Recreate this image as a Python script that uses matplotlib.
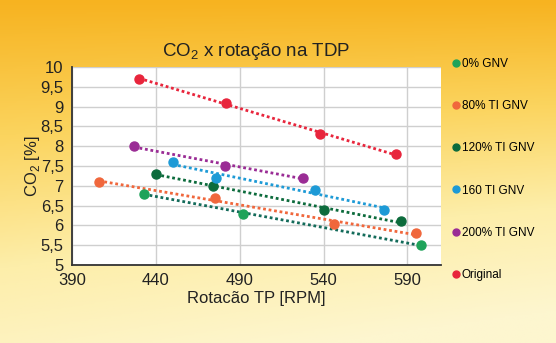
import numpy as np
import matplotlib
matplotlib.use("Agg")
import matplotlib.pyplot as plt
from matplotlib.lines import Line2D
from matplotlib.colors import LinearSegmentedColormap

plt.rcParams["font.family"] = ["Liberation Sans", "DejaVu Sans"]
plt.rcParams["mathtext.fontset"] = "custom"
plt.rcParams["mathtext.rm"] = "Liberation Sans"

# series (rotação TP [RPM], CO2 [%])
series_names = ["0% GNV", "80% TI GNV", "120% TI GNV", "160 TI GNV", "200% TI GNV", "Original"]
series_colors = ["#1fa35a", "#f0673c", "#0c6b3c", "#1d9ad6", "#9a2c95", "#e8253c"]
line_colors = ["#136b5a", "#f0673c", "#0c6b3c", "#1d9ad6", "#9a2c95", "#e8253c"]

rpm_0 = [433, 492, 598]
co2_0 = [6.8, 6.3, 5.5]
rpm_80 = [406, 475, 546, 595]
co2_80 = [7.1, 6.7, 6.03, 5.8]
rpm_120 = [440, 474, 540, 586]
co2_120 = [7.3, 7.0, 6.4, 6.1]
rpm_160 = [450, 476, 535, 576]
co2_160 = [7.6, 7.2, 6.9, 6.4]
rpm_200 = [427, 481, 528]
co2_200 = [8.0, 7.5, 7.2]
rpm_orig = [430, 482, 538, 583]
co2_orig = [9.7, 9.1, 8.3, 7.8]

all_rpm = [rpm_0, rpm_80, rpm_120, rpm_160, rpm_200, rpm_orig]
all_co2 = [co2_0, co2_80, co2_120, co2_160, co2_200, co2_orig]

x_ticks = [390, 440, 490, 540, 590]
y_ticks = [5, 5.5, 6, 6.5, 7, 7.5, 8, 8.5, 9, 9.5, 10]
y_labels = ["5", "5,5", "6", "6,5", "7", "7,5", "8", "8,5", "9", "9,5", "10"]

fig = plt.figure(figsize=(5.56, 3.43), dpi=100)

# background gradient
bg = fig.add_axes([0, 0, 1, 1], zorder=-10)
yy, xx = np.mgrid[0:1:200j, 0:1:200j]
grad = np.clip(0.85 * yy + 0.25 * xx * yy, 0, 1)
cmap = LinearSegmentedColormap.from_list("bg", ["#f7b320", "#fbd45e", "#fdeeaa", "#fdf6cf"])
bg.imshow(grad, cmap=cmap, aspect="auto", extent=[0, 1, 0, 1], origin="upper")
bg.axis("off")

ax = fig.add_axes([0.1295, 0.2274, 0.6635, 0.5773])
ax.set_facecolor("white")

for rpm, co2, mc, lc in zip(all_rpm, all_co2, series_colors, line_colors):
    x = np.array(rpm, dtype=float)
    y = np.array(co2, dtype=float)
    k, b = np.polyfit(x, y, 1)
    xs = np.array([x.min(), x.max()])
    ax.plot(xs, k * xs + b, linestyle=(0, (1, 1)), color=lc, lw=2.0, zorder=2)
    ax.plot(x, y, "o", color=mc, ms=6.5, zorder=3)

ax.set_xlim(390, 610)
ax.set_ylim(5, 10)
ax.set_xticks(x_ticks)
ax.set_yticks(y_ticks)
ax.set_yticklabels(y_labels)
ax.grid(True, color="#cfcfcf", lw=1.0)
ax.set_axisbelow(True)
for s in ["top", "right"]:
    ax.spines[s].set_visible(False)
for s in ["left", "bottom"]:
    ax.spines[s].set_color("#333333")
    ax.spines[s].set_linewidth(1.3)
ax.tick_params(length=0, labelsize=12, colors="#222222", pad=6)

ax.set_title("CO$_2$ x rotação na TDP", fontsize=13.5, color="#222222", pad=8)
ax.set_xlabel("Rotacão TP [RPM]", fontsize=12, color="#222222", labelpad=2)
ax.set_ylabel("CO$_2$ [%]", fontsize=12, color="#222222", labelpad=-1)

handles = [Line2D([], [], marker="o", ls="none", color=c, ms=5) for c in series_colors]
fig.legend(handles, series_names, loc="upper left", bbox_to_anchor=(0.805, 0.845),
           frameon=False, fontsize=8.5, handlelength=0.6, handletextpad=0.2,
           labelspacing=2.56, borderaxespad=0)

fig.savefig("out.png", dpi=100)
